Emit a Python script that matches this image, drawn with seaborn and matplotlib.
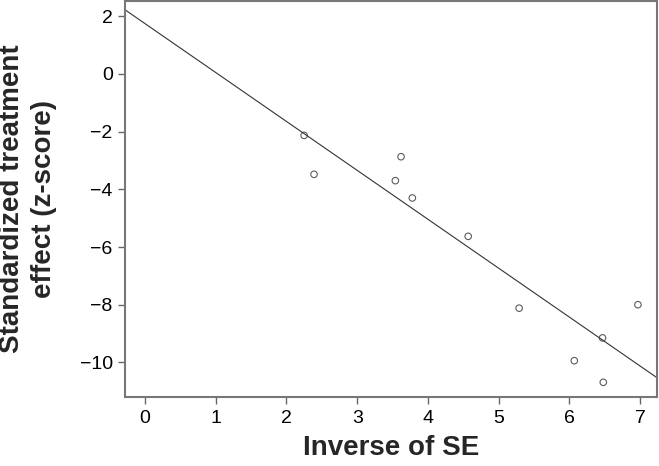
import matplotlib
matplotlib.use("Agg")
import matplotlib.pyplot as plt
import seaborn as sns
import pandas as pd

inverse_se = [2.25, 2.39, 3.62, 3.54, 3.78, 4.57, 5.29, 6.07, 6.47, 6.48, 6.97]
z_score = [-2.13, -3.48, -2.87, -3.70, -4.30, -5.63, -8.12, -9.94, -9.15, -10.69, -8.00]
x_ticks = [0, 1, 2, 3, 4, 5, 6, 7]
y_ticks = [2, 0, -2, -4, -6, -8, -10]

df = pd.DataFrame({"inv_se": inverse_se, "z": z_score})

sns.set_style("white")
plt.rcParams["font.family"] = ["Liberation Sans", "DejaVu Sans"]

fig = plt.figure(figsize=(6.59, 4.66), dpi=100)
ax = fig.add_axes([0.19, 0.148, 0.807, 0.85])
xlim = (-0.28, 7.24)
ylim = (-11.2, 2.53)
ax.set_xlim(*xlim)
ax.set_ylim(*ylim)

sns.regplot(data=df, x="inv_se", y="z", ax=ax, ci=None, truncate=False,
            scatter_kws=dict(marker="o", s=22, facecolors="none",
                             edgecolors="#333333", linewidths=0.8),
            line_kws=dict(color="#333333", linewidth=0.8))

ax.set_xlim(*xlim)
ax.set_ylim(*ylim)
ax.set_xticks(x_ticks)
ax.set_yticks(y_ticks)
ax.tick_params(axis="both", which="both", direction="out", length=5, width=1,
               color="#666666", labelsize=14, labelcolor="black",
               bottom=True, left=True, pad=4)
for s in ax.spines.values():
    s.set_visible(True)
    s.set_color("#777777")
    s.set_linewidth(1.5)

ax.set_xlabel("Inverse of SE", fontsize=20, fontweight="bold", labelpad=6)
ax.set_ylabel("Standardized treatment\neffect (z-score)", fontsize=20,
              fontweight="bold", labelpad=16, linespacing=1.3)

fig.savefig("out.png", dpi=100)
